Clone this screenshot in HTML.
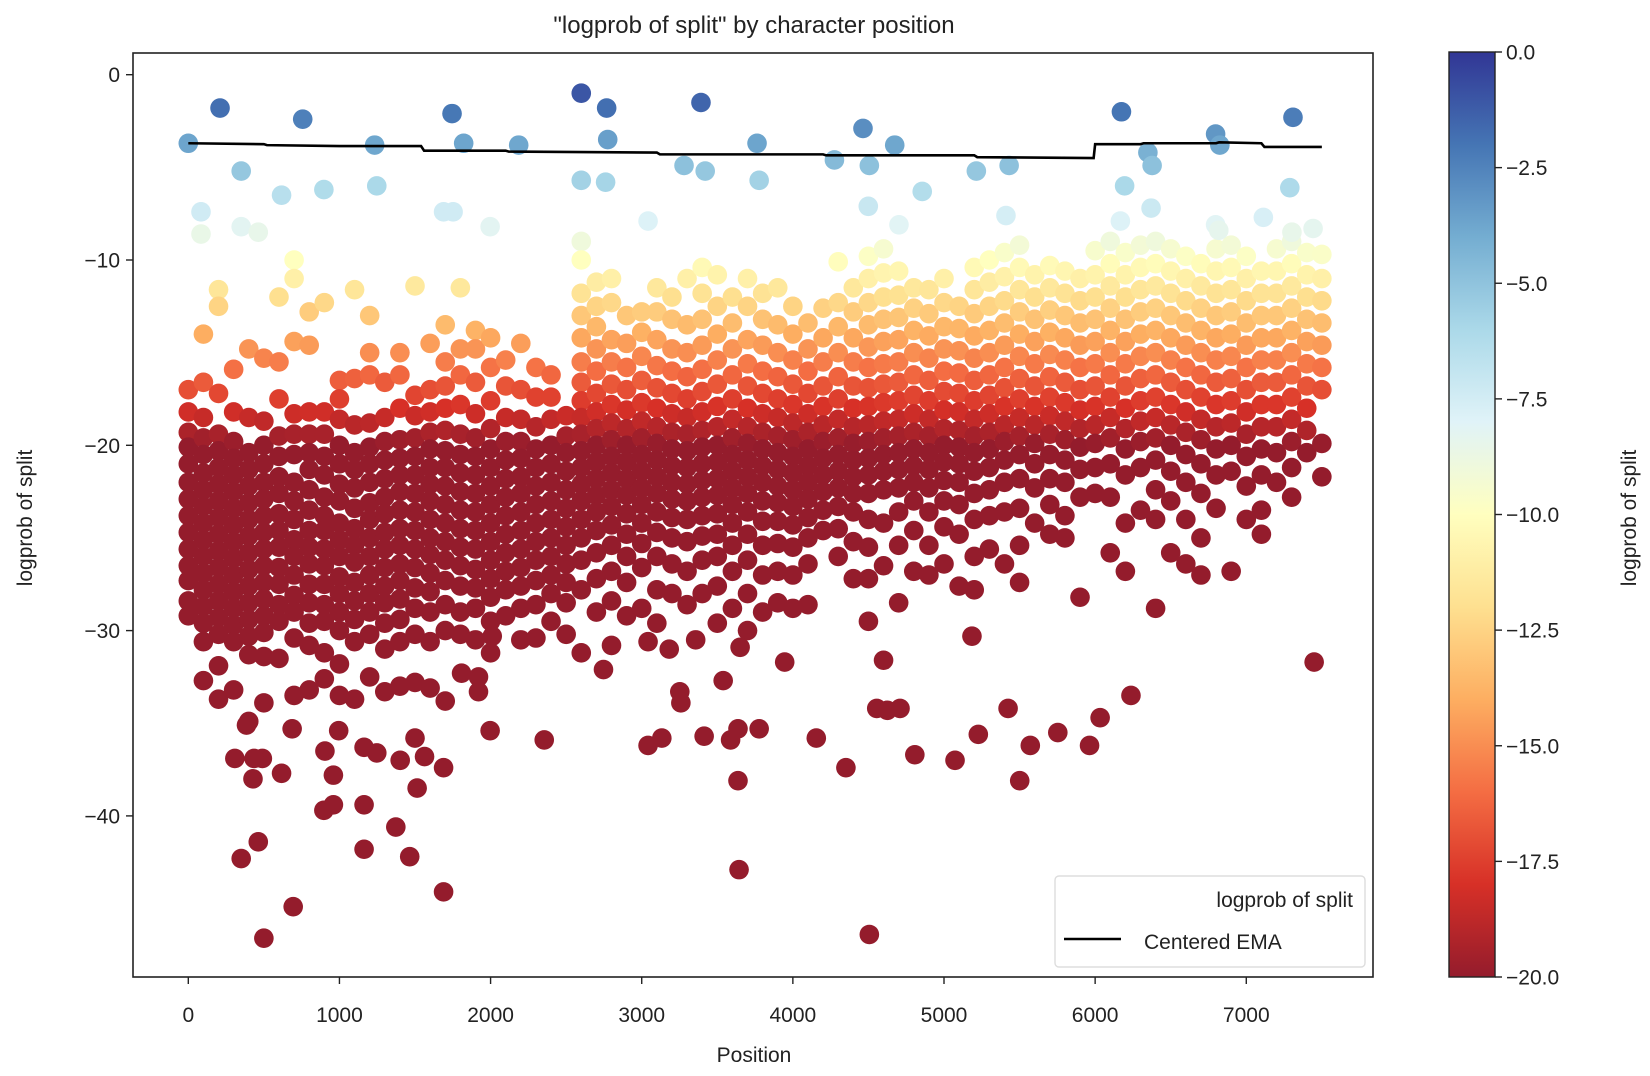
<!DOCTYPE html>
<html><head><meta charset="utf-8"><style>
html,body{margin:0;padding:0;background:#fff;}
svg{display:block;font-family:"Liberation Sans","DejaVu Sans",sans-serif;}
</style></head><body>
<svg id="chart" width="1650" height="1076" viewBox="0 0 1650 1076"></svg>
<script>
const colX=[0,100,200,300,400,500,600,700,800,900,1000,1100,1200,1300,1400,1500,1600,1700,1800,1900,2000,2100,2200,2300,2400,2500,2600,2700,2800,2900,3000,3100,3200,3300,3400,3500,3600,3700,3800,3900,4000,4100,4200,4300,4400,4500,4600,4700,4800,4900,5000,5100,5200,5300,5400,5500,5600,5700,5800,5900,6000,6100,6200,6300,6400,6500,6600,6700,6800,6900,7000,7100,7200,7300,7400,7500];
const colVals=[
[-17,-18.2,-19.3,-20.1,-21,-22,-22.9,-23.8,-24.7,-25.6,-26.5,-27.3,-28.4,-29.2],
[-14,-16.6,-18.5,-19.6,-20.5,-21.5,-22.4,-23.3,-24.2,-25.1,-26,-26.9,-27.8,-28.7,-29.6,-30.6,-32.7],
[-11.6,-12.5,-17.2,-19.4,-20.3,-21.2,-22.1,-23,-23.9,-24.8,-25.7,-26.6,-27.5,-28.4,-29.3,-30.2,-31.9,-33.7],
[-15.9,-18.2,-19.8,-20.7,-21.6,-22.5,-23.4,-24.3,-25.2,-26.1,-27,-27.9,-28.8,-29.7,-30.6,-33.2],
[-14.8,-18.5,-20.4,-21.3,-22.2,-23.1,-24,-24.9,-25.8,-26.7,-27.6,-28.5,-29.4,-30.3,-31.3,-34.9],
[-15.3,-18.7,-20,-21,-22,-22.9,-23.8,-24.7,-25.6,-26.5,-27.4,-28.3,-29.2,-30.1,-31.4,-33.9],
[-12,-15.5,-17.5,-19.5,-20.6,-21.7,-22.6,-23.7,-24.6,-25.5,-26.6,-27.5,-28.6,-29.5,-31.5],
[-10,-11,-14.4,-18.3,-19.4,-20.5,-22,-23,-24,-25.1,-26,-27,-28.1,-29,-30.4,-33.5],
[-12.8,-14.6,-18.2,-19.4,-20.4,-21.3,-22.4,-23.5,-24.6,-25.5,-26.4,-27.5,-28.5,-29.6,-30.8,-33.2],
[-12.3,-18.2,-19.4,-20.6,-21.6,-22.8,-23.8,-24.6,-25.6,-26.5,-27.5,-28.6,-29.5,-31.2,-32.6],
[-16.5,-17.5,-18.6,-20,-21,-22.1,-23,-24.2,-25.1,-26,-27.1,-28,-29,-30,-31.8,-33.5],
[-11.6,-16.4,-18.9,-20.4,-21.3,-22.3,-23.4,-24.5,-25.4,-26.3,-27.4,-28.4,-29.4,-30.6,-33.7],
[-13,-15,-16.2,-18.8,-20.1,-21,-22,-23.1,-24,-25,-26,-27,-28,-29,-30.2,-32.5],
[-16.6,-18.5,-19.8,-20.8,-21.8,-22.8,-23.7,-24.7,-25.6,-26.6,-27.6,-28.5,-29.6,-31,-33.3],
[-15,-16.2,-18,-19.7,-20.7,-21.6,-22.5,-23.5,-24.5,-25.4,-26.4,-27.3,-28.3,-29.4,-30.6,-33],
[-11.4,-17.3,-18.4,-19.6,-20.6,-21.6,-22.6,-23.6,-24.6,-25.6,-26.6,-27.7,-28.8,-30.2,-32.8,-35.8],
[-14.5,-17,-18.2,-19.3,-20.2,-21.2,-22.1,-23,-24,-25,-25.9,-26.9,-27.9,-29,-30.6,-33.1],
[-13.5,-15.5,-16.8,-18,-19.2,-20.3,-21.2,-22.2,-23.2,-24.2,-25.2,-26.2,-27.3,-28.6,-30,-33.8],
[-11.5,-14.8,-16.2,-17.8,-19.4,-20.5,-21.5,-22.5,-23.5,-24.5,-25.5,-26.5,-27.6,-29,-30.2],
[-13.8,-14.8,-16.6,-18.3,-19.6,-20.6,-21.6,-22.6,-23.6,-24.6,-25.6,-26.7,-27.7,-28.8,-30.5],
[-14.2,-15.8,-17.6,-19.1,-20.2,-21.2,-22.2,-23.2,-24.2,-25.2,-26.2,-27.2,-28.2,-29.5,-31.2],
[-15.4,-16.8,-18.5,-19.8,-20.8,-21.8,-22.8,-23.8,-24.8,-25.8,-26.8,-27.8,-29.2],
[-14.5,-17,-18.6,-19.8,-20.7,-21.7,-22.6,-23.6,-24.6,-25.6,-26.6,-27.6,-28.8,-30.5],
[-15.8,-17.4,-19,-20.2,-21.2,-22.2,-23.2,-24.2,-25.2,-26.2,-27.3,-28.6,-30.4],
[-16.2,-17.4,-18.6,-20,-21,-22,-23,-24,-25,-26,-27,-28,-29.5],
[-18.4,-19.5,-20.4,-21.4,-22.4,-23.4,-24.4,-25.4,-26.4,-27.4,-28.5,-30.2],
[-9,-10,-11.8,-13,-14.2,-15.5,-16.6,-17.6,-18.5,-19.4,-20.3,-21.2,-22.1,-23,-24,-25,-26.2,-27.8,-31.2],
[-11.2,-12.5,-13.6,-14.8,-16,-17.2,-18.2,-19.1,-20,-20.9,-21.8,-22.7,-23.6,-24.6,-25.8,-27.2,-29],
[-11,-12.3,-14.3,-15.5,-16.7,-17.8,-18.8,-19.7,-20.6,-21.5,-22.4,-23.3,-24.3,-25.4,-26.8,-28.4,-30.8],
[-13,-14.5,-15.8,-17,-18.1,-19.1,-20,-20.9,-21.8,-22.7,-23.7,-24.8,-26,-27.4,-29.2],
[-12.8,-13.9,-15.2,-16.5,-17.7,-18.7,-19.6,-20.5,-21.4,-22.3,-23.2,-24.2,-25.3,-26.6,-28.8],
[-11.5,-12.8,-14.3,-15.7,-16.9,-18,-19,-19.9,-20.8,-21.7,-22.6,-23.6,-24.7,-26,-27.8,-29.6],
[-12,-13.2,-14.8,-16,-17.2,-18.3,-19.3,-20.2,-21.1,-22,-22.9,-23.9,-25,-26.4,-28],
[-11,-13.5,-15,-16.3,-17.5,-18.5,-19.4,-20.3,-21.2,-22.1,-23,-24,-25.2,-26.8,-28.6],
[-10.4,-11.8,-13.2,-14.6,-15.9,-17.1,-18.2,-19.2,-20.1,-21,-21.9,-22.8,-23.8,-24.9,-26.2,-28],
[-10.8,-12.5,-14,-15.4,-16.7,-17.9,-19,-20,-20.9,-21.8,-22.7,-23.7,-24.8,-26,-27.6,-29.6],
[-12,-13.4,-14.8,-16.2,-17.5,-18.6,-19.6,-20.5,-21.4,-22.3,-23.2,-24.2,-25.4,-26.8,-28.8],
[-11,-12.5,-14.3,-15.6,-16.8,-18,-19,-19.9,-20.8,-21.7,-22.6,-23.6,-24.8,-26.2,-28,-30],
[-11.8,-13.2,-14.6,-16,-17.2,-18.3,-19.3,-20.2,-21.1,-22,-23,-24.1,-25.4,-27,-29],
[-11.5,-13.5,-15,-16.3,-17.5,-18.5,-19.5,-20.4,-21.3,-22.2,-23.1,-24.1,-25.3,-26.8,-28.5],
[-12.5,-14,-15.4,-16.7,-17.8,-18.8,-19.7,-20.6,-21.5,-22.4,-23.3,-24.3,-25.5,-27,-28.8],
[-13.4,-14.8,-16,-17.2,-18.3,-19.3,-20.2,-21.1,-22,-22.9,-23.9,-25,-26.4,-28.6],
[-12.6,-14.2,-15.5,-16.8,-17.9,-18.9,-19.8,-20.7,-21.6,-22.5,-23.5,-24.6],
[-10.1,-12.3,-13.6,-15,-16.3,-17.5,-18.6,-19.6,-20.5,-21.4,-22.3,-23.3,-24.5,-26],
[-11.5,-12.8,-14.2,-15.5,-16.8,-18,-19,-19.9,-20.8,-21.7,-22.6,-23.6,-25.2,-27.2],
[-9.8,-11,-12.3,-13.5,-14.7,-15.8,-16.9,-17.9,-18.9,-19.8,-20.7,-21.6,-22.6,-24,-25.5,-27.2,-29.5],
[-9.4,-10.7,-12,-13.2,-14.4,-15.6,-16.7,-17.7,-18.7,-19.6,-20.5,-21.4,-22.4,-24.2,-26.5,-31.6],
[-10.6,-11.9,-13.1,-14.3,-15.5,-16.6,-17.6,-18.6,-19.5,-20.4,-21.3,-22.3,-23.6,-25.4,-28.5],
[-11.5,-12.6,-13.8,-15,-16.2,-17.3,-18.3,-19.3,-20.2,-21.1,-22,-23,-24.6,-26.8],
[-11.6,-12.9,-14.1,-15.3,-16.5,-17.6,-18.6,-19.5,-20.4,-21.3,-22.3,-23.6,-25.4,-27],
[-11,-12.3,-13.6,-14.8,-16,-17.1,-18.1,-19.1,-20,-20.9,-21.9,-23,-24.4,-26.4],
[-12.5,-13.7,-14.9,-16.1,-17.2,-18.2,-19.2,-20.1,-21,-22,-23.2,-24.8,-27.6],
[-10.4,-11.6,-12.9,-14.1,-15.3,-16.5,-17.6,-18.6,-19.5,-20.4,-21.4,-22.6,-24,-26,-27.8],
[-10,-11.2,-12.5,-13.8,-15,-16.2,-17.3,-18.3,-19.3,-20.2,-21.2,-22.4,-23.8,-25.6],
[-9.6,-10.9,-12.2,-13.4,-14.6,-15.8,-16.9,-17.9,-18.9,-19.8,-20.8,-22,-23.6,-26.4],
[-9.2,-10.4,-11.6,-12.8,-14,-15.2,-16.4,-17.5,-18.5,-19.5,-20.5,-21.8,-23.4,-25.4,-27.4],
[-10.8,-12,-13.2,-14.4,-15.6,-16.8,-17.9,-18.9,-19.9,-21,-22.3,-24.2],
[-10.3,-11.5,-12.7,-13.9,-15.1,-16.3,-17.4,-18.4,-19.4,-20.5,-21.8,-23.2,-24.8],
[-10.6,-11.8,-13,-14.2,-15.4,-16.6,-17.7,-18.7,-19.7,-20.8,-22,-23.8,-25],
[-11,-12.2,-13.4,-14.6,-15.8,-17,-18.1,-19.1,-20.1,-21.3,-22.8,-28.2],
[-9.5,-10.8,-12,-13.2,-14.4,-15.6,-16.8,-17.9,-18.9,-19.9,-21.2,-22.6],
[-9,-10.2,-11.4,-12.6,-13.8,-15,-16.2,-17.4,-18.5,-19.6,-21,-22.8,-25.8],
[-9.6,-10.8,-12,-13.2,-14.4,-15.6,-16.8,-18,-19.1,-20.2,-21.6,-24.2,-26.8],
[-9.2,-10.4,-11.6,-12.8,-14,-15.2,-16.4,-17.6,-18.7,-19.8,-21.2,-23.5],
[-9,-10.2,-11.4,-12.6,-13.8,-15,-16.2,-17.4,-18.5,-19.6,-20.8,-22.4,-24,-28.8],
[-9.4,-10.6,-11.8,-13,-14.2,-15.4,-16.6,-17.8,-18.9,-20,-21.4,-23,-25.8],
[-9.8,-11,-12.2,-13.4,-14.6,-15.8,-17,-18.2,-19.3,-20.5,-22,-24,-26.4],
[-10.2,-11.4,-12.6,-13.8,-15,-16.2,-17.4,-18.6,-19.7,-21,-22.6,-25,-27],
[-9.4,-10.6,-11.8,-13,-14.2,-15.4,-16.6,-17.8,-19,-20.2,-21.6,-23.4],
[-9.2,-10.4,-11.6,-12.8,-14,-15.2,-16.4,-17.6,-18.8,-20,-21.4,-26.8],
[-9.8,-11,-12.2,-13.4,-14.6,-15.8,-17,-18.2,-19.4,-20.6,-22.2,-24],
[-10.6,-11.8,-13,-14.2,-15.4,-16.6,-17.8,-19,-20.2,-21.6,-23.5,-24.8],
[-9.4,-10.6,-11.8,-13,-14.2,-15.4,-16.6,-17.8,-19,-20.4,-22],
[-9,-10.2,-11.4,-12.6,-13.8,-15,-16.2,-17.4,-18.6,-19.8,-21.2,-22.8],
[-9.6,-10.8,-12,-13.2,-14.4,-15.6,-16.8,-18,-19.2,-20.4],
[-9.7,-11,-12.2,-13.4,-14.6,-15.8,-17,-19.9,-21.7]
];
const outX=[350,500,463,694,1689,1465,1163,1373,897,960,1163,428,617,308,490,435,960,1514,1402,1689,904,1247,1163,385,687,995,1563,1997,2355,3042,3133,3413,3588,3637,3777,3637,3644,4155,4351,4807,5073,5227,5501,5571,5753,5963,6033,6237,4555,4625,4709,4506,7449,5424,5185,3252,3259,3946,3539,3357,2747,3042,3182,3651,2011,1808,1920,1920,
0,210,757,1745,2600,2768,3392,4464,6174,7309,1233,1822,2186,2775,3763,4674,6797,6825,6349,6377,4275,4506,3280,3420,5431,5214,350,1247,2600,2761,3777,4856,6195,7288,617,897,84,1689,1752,4499,5410,6370,7113,3042,4702,6167,6797,6818,350,463,84,1997,7442,7302];
const outY=[-42.3,-46.6,-41.4,-44.9,-44.1,-42.2,-41.8,-40.6,-39.7,-39.4,-39.4,-38,-37.7,-36.9,-36.9,-36.9,-37.8,-38.5,-37,-37.4,-36.5,-36.6,-36.3,-35.1,-35.3,-35.4,-36.8,-35.4,-35.9,-36.2,-35.8,-35.7,-35.9,-35.3,-35.3,-38.1,-42.9,-35.8,-37.4,-36.7,-37,-35.6,-38.1,-36.2,-35.5,-36.2,-34.7,-33.5,-34.2,-34.3,-34.2,-46.4,-31.7,-34.2,-30.3,-33.3,-33.9,-31.7,-32.7,-30.5,-32.1,-30.6,-31,-30.9,-30.3,-32.3,-32.5,-33.3,
-3.7,-1.8,-2.4,-2.1,-1,-1.8,-1.5,-2.9,-2,-2.3,-3.8,-3.7,-3.8,-3.5,-3.7,-3.8,-3.2,-3.8,-4.2,-4.9,-4.6,-4.9,-4.9,-5.2,-4.9,-5.2,-5.2,-6,-5.7,-5.8,-5.7,-6.3,-6,-6.1,-6.5,-6.2,-7.4,-7.4,-7.4,-7.1,-7.6,-7.2,-7.7,-7.9,-8.1,-7.9,-8.1,-8.4,-8.2,-8.5,-8.6,-8.2,-8.3,-8.5];
const emaX=[0,500,520,1000,1540,1560,2100,2120,3100,3120,4200,4220,5200,5220,5990,6000,6300,6320,6800,6820,7100,7120,7500];
const emaY=[-3.7,-3.75,-3.8,-3.85,-3.85,-4.1,-4.1,-4.15,-4.2,-4.3,-4.3,-4.35,-4.35,-4.45,-4.5,-3.75,-3.75,-3.7,-3.7,-3.65,-3.7,-3.9,-3.9];
const xTicks=[0,1000,2000,3000,4000,5000,6000,7000];
const yTicks=[0,-10,-20,-30,-40];
const yTickLabels=["0","\u221210","\u221220","\u221230","\u221240"];
const cbTicks=[0,-2.5,-5,-7.5,-10,-12.5,-15,-17.5,-20];
const cbTickLabels=["0.0","\u22122.5","\u22125.0","\u22127.5","\u221210.0","\u221212.5","\u221215.0","\u221217.5","\u221220.0"];

const NS="http://www.w3.org/2000/svg";
const svg=document.getElementById('chart');
const L=133,R=1373,T=53,B=977;
const sx=v=>188.3+v*0.15114;
const sy=v=>74.7-v*18.53;
const cbX=1449,cbW=46,cbT=52,cbB=977;
const cy=v=>cbB-(v+20)/20*(cbB-cbT);
const stops=[[0,[148,28,44]],[0.1,[215,48,39]],[0.2,[244,109,67]],[0.3,[253,174,97]],[0.4,[254,224,144]],[0.5,[255,255,191]],[0.6,[224,243,248]],[0.7,[171,217,233]],[0.8,[116,173,209]],[0.9,[69,117,180]],[1,[49,54,149]]];
function cmap(v){let t=(v+20)/20;t=Math.max(0,Math.min(1,t));
 for(let i=1;i<stops.length;i++){if(t<=stops[i][0]){const a=stops[i-1],b=stops[i];const f=(t-a[0])/(b[0]-a[0]);
 const c=a[1].map((x,k)=>Math.round(x+(b[1][k]-x)*f));return `rgb(${c[0]},${c[1]},${c[2]})`;}}return 'rgb(49,54,149)';}
function el(tag,attrs,parent){const e=document.createElementNS(NS,tag);for(const k in attrs)e.setAttribute(k,attrs[k]);(parent||svg).appendChild(e);return e;}
function txt(s,attrs,parent){const e=el('text',attrs,parent);e.textContent=s;return e;}

const defs=el('defs',{});
const clip=el('clipPath',{id:'pc'},defs);el('rect',{x:L,y:T,width:R-L,height:B-T},clip);
const grad=el('linearGradient',{id:'cbg',x1:0,y1:1,x2:0,y2:0},defs);
stops.forEach(s=>el('stop',{offset:s[0],'stop-color':`rgb(${s[1].join(',')})`},grad));

const RAD=9.8;
const pts=el('g',{'clip-path':'url(#pc)'});


colX.forEach((x,i)=>{colVals[i].forEach(y=>{
 const c=el('circle',{cx:sx(x),cy:sy(y),r:RAD,fill:cmap(y)},pts);
 
 
});});
outX.forEach((x,i)=>{const y=outY[i];
 const c=el('circle',{cx:sx(x),cy:sy(y),r:RAD,fill:cmap(y)},pts);
 
 
});
const line=el('polyline',{points:emaX.map((x,i)=>sx(x)+','+sy(emaY[i])).join(' '),fill:'none',stroke:'#000','stroke-width':2.6,'clip-path':'url(#pc)'});



const frame=el('rect',{x:L,y:T,width:R-L,height:B-T,fill:'none',stroke:'#222','stroke-width':1.6});



xTicks.forEach(v=>{const x=sx(v);el('line',{x1:x,y1:B,x2:x,y2:B+7,stroke:'#222','stroke-width':1.4});
 const t=txt(String(v),{x:x,y:1022,'text-anchor':'middle','font-size':21,fill:'#222'});
 
 });
yTicks.forEach((v,i)=>{const y=sy(v);el('line',{x1:L-7,y1:y,x2:L,y2:y,stroke:'#222','stroke-width':1.4});
 const t=txt(yTickLabels[i],{x:L-13,y:y+7.5,'text-anchor':'end','font-size':21,fill:'#222'});
 
 });

const title=txt('"logprob of split" by character position',{x:754,y:33,'text-anchor':'middle','font-size':24,fill:'#222'});


const xl=txt('Position',{x:754,y:1062,'text-anchor':'middle','font-size':21,fill:'#222'});


const yl=txt('logprob of split',{x:0,y:0,'text-anchor':'middle','font-size':21,fill:'#222',transform:'translate(32,518) rotate(-90)'});



const cb=el('rect',{x:cbX,y:cbT,width:cbW,height:cbB-cbT,fill:'url(#cbg)',stroke:'#222','stroke-width':1.4});


cbTicks.forEach((v,i)=>{const y=cy(v);el('line',{x1:cbX+cbW,y1:y,x2:cbX+cbW+7,y2:y,stroke:'#222','stroke-width':1.4});
 const t=txt(cbTickLabels[i],{x:cbX+cbW+11,y:y+7.5,'font-size':21,fill:'#222'});
 
 });
const cbl=txt('logprob of split',{x:0,y:0,'text-anchor':'middle','font-size':21,fill:'#222',transform:'translate(1636,518) rotate(-90)'});



const lg=el('g',{});


el('rect',{x:1055,y:876,width:310,height:91,rx:4,fill:'rgba(255,255,255,0.85)',stroke:'#ddd','stroke-width':1.4},lg);
const le1=txt('logprob of split',{x:1353,y:907,'text-anchor':'end','font-size':21,fill:'#222'},lg);


el('line',{x1:1064,y1:939,x2:1121,y2:939,stroke:'#000','stroke-width':2.6},lg);
const le2=txt('Centered EMA',{x:1144,y:949,'font-size':21,fill:'#222'},lg);


</script>
</body></html>
